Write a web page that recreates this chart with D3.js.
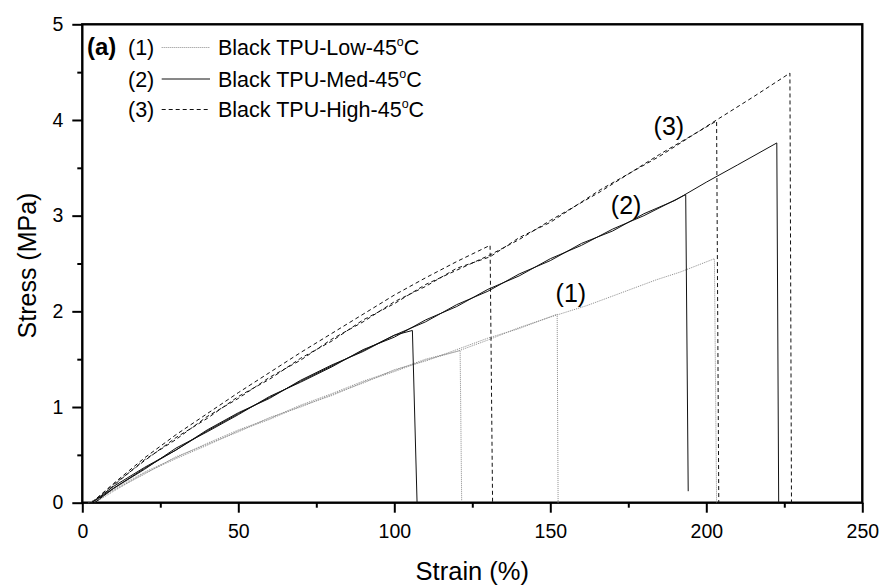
<!DOCTYPE html>
<html>
<head>
<meta charset="utf-8">
<script src="https://cdn.jsdelivr.net/npm/d3@7/dist/d3.min.js"></script>
<style>
  body { margin: 0; background: #fff; }
  svg { display: block; font-family: Arial, "Liberation Sans", sans-serif; }
</style>
</head>
<body>
<svg id="chart"></svg>
<script>
//------------------------------------------------------------
// Data: [strain %, stress MPa], one array per specimen

// (1) Black TPU-Low-45°C  (dotted)
const lowA = [[3,0],[10,0.14],[20,0.32],[30,0.47],[40,0.62],[50,0.76],[60,0.88],[70,1.02],[80,1.14],[90,1.27],[100,1.38],[110,1.50],[121.1,1.59],[121.6,0]];
const lowB = [[2,0],[10,0.13],[20,0.30],[30,0.48],[40,0.61],[50,0.74],[60,0.89],[70,1.00],[80,1.13],[90,1.25],[100,1.39],[110,1.48],[120,1.60],[130,1.72],[140,1.82],[152.2,1.97],[152.5,0]];
const lowC = [[4,0],[10,0.12],[20,0.31],[30,0.46],[40,0.60],[50,0.75],[60,0.87],[70,1.01],[80,1.12],[90,1.26],[100,1.37],[110,1.49],[120,1.58],[130,1.70],[140,1.83],[150,1.94],[161.7,2.06],[170,2.16],[184,2.33],[191.6,2.41],[202.6,2.55],[203.3,0]];

// (2) Black TPU-Med-45°C  (solid)
const medA = [[3,0],[10,0.17],[20,0.37],[30,0.55],[40,0.76],[50,0.94],[60,1.09],[70,1.28],[80,1.44],[90,1.58],[100,1.75],[105.8,1.80],[107.3,0]];
const medB = [[3,0],[10,0.15],[20,0.35],[30,0.57],[40,0.74],[50,0.92],[60,1.11],[70,1.26],[80,1.42],[90,1.60],[100,1.73],[110,1.91],[120,2.05],[130,2.23],[140,2.37],[150,2.55],[160,2.69],[170,2.86],[180,3.00],[193.4,3.22],[194.2,0.12]];
const medC = [[4,0],[10,0.15],[20,0.36],[30,0.55],[40,0.75],[50,0.93],[60,1.10],[70,1.27],[80,1.43],[90,1.59],[100,1.75],[110,1.89],[120,2.07],[130,2.21],[140,2.39],[150,2.53],[160,2.71],[170,2.84],[180,3.02],[190,3.16],[200,3.35],[210,3.53],[222.6,3.76],[223.2,0]];

// (3) Black TPU-High-45°C  (dashed)
const highA = [[3,0],[10,0.20],[20,0.47],[30,0.71],[40,0.93],[50,1.15],[60,1.36],[70,1.57],[80,1.77],[90,1.97],[100,2.17],[110,2.35],[120,2.52],[130.7,2.69],[131.5,0]];
const highB = [[3,0],[10,0.19],[20,0.44],[30,0.68],[40,0.88],[50,1.11],[60,1.29],[70,1.51],[80,1.69],[90,1.91],[100,2.08],[110,2.28],[120,2.43],[130.7,2.59],[140,2.75],[150,2.95],[166,3.25],[185,3.64],[203.3,3.99],[204,0]];
const highC = [[4,0],[10,0.18],[20,0.45],[30,0.66],[40,0.90],[50,1.09],[60,1.31],[70,1.49],[80,1.71],[90,1.89],[100,2.10],[110,2.26],[120,2.45],[130.7,2.57],[140,2.77],[150,2.93],[166,3.27],[185,3.62],[203.3,4.00],[215,4.24],[226.8,4.49],[227.3,0]];

const seriesNames = ["Black TPU-Low-45", "Black TPU-Med-45", "Black TPU-High-45"];
const seriesTags = ["(1)", "(2)", "(3)"];

const xTicks = [0, 50, 100, 150, 200, 250];
const xMinor = [25, 75, 125, 175, 225];
const yTicks = [0, 1, 2, 3, 4, 5];
const yMinor = [0.5, 1.5, 2.5, 3.5, 4.5];

//------------------------------------------------------------
// Chart setup
const W = 884, H = 586;
const margin = { top: 24.3, right: 21.7, bottom: 83.3, left: 82.3 };
const innerW = W - margin.left - margin.right;
const innerH = H - margin.top - margin.bottom;

const svg = d3.select("#chart").attr("width", W).attr("height", H);
const g = svg.append("g").attr("transform", `translate(${margin.left},${margin.top})`);

const x = d3.scaleLinear().domain([0, 250]).range([0, innerW]);
const y = d3.scaleLinear().domain([0, 5]).range([innerH, 0]);

// Axes (major + minor ticks, outward)
g.append("g").attr("transform", `translate(0,${innerH})`)
  .call(d3.axisBottom(x).tickValues(xTicks).tickSize(10).tickPadding(11).tickFormat(d3.format("d")));
g.append("g").attr("transform", `translate(0,${innerH})`)
  .call(d3.axisBottom(x).tickValues(xMinor).tickSize(5).tickFormat(""));

g.append("g")
  .call(d3.axisLeft(y).tickValues(yTicks).tickSize(10).tickPadding(9).tickFormat(d3.format("d")));
g.append("g")
  .call(d3.axisLeft(y).tickValues(yMinor).tickSize(5).tickFormat(""));

g.selectAll(".domain").remove();
g.selectAll(".tick line").attr("stroke", "#000").attr("stroke-width", 2);
g.selectAll(".tick text").attr("fill", "#000").style("font-size", "19.5px")
  .style("font-family", "Arial, 'Liberation Sans', sans-serif");

// Frame
g.append("rect")
  .attr("width", innerW).attr("height", innerH)
  .attr("fill", "none").attr("stroke", "#000").attr("stroke-width", 2.4);

// Axis titles
svg.append("text")
  .attr("x", margin.left + innerW / 2).attr("y", 580)
  .attr("text-anchor", "middle").style("font-size", "25.5px")
  .text("Strain (%)");

svg.append("text")
  .attr("transform", `translate(36,${margin.top + innerH / 2 + 2}) rotate(-90)`)
  .attr("text-anchor", "middle").style("font-size", "25px")
  .text("Stress (MPa)");

//------------------------------------------------------------
// Curves
const styles = [
  { stroke: "#8c8c8c", dash: "1 1" },
  { stroke: "#111", dash: null },
  { stroke: "#111", dash: "4 3" }
];
const groups = [[lowA, lowB, lowC], [medA, medB, medC], [highA, highB, highC]];

const line = d3.line().x(d => x(d[0])).y(d => y(d[1]));

groups.forEach((specimens, i) => {
  g.append("g").selectAll("path")
    .data(specimens)
    .join("path")
    .attr("d", line)
    .attr("fill", "none")
    .attr("stroke", styles[i].stroke)
    .attr("stroke-width", 1)
    .attr("stroke-dasharray", styles[i].dash);
});

// Curve tags placed in data units
const tagAt = [[156.6, 2.10], [174.3, 3.02], [188, 3.84]];
g.selectAll(".tag")
  .data(seriesTags)
  .join("text")
  .attr("class", "tag")
  .attr("x", (d, i) => x(tagAt[i][0]))
  .attr("y", (d, i) => y(tagAt[i][1]))
  .attr("text-anchor", "middle")
  .style("font-size", "25px")
  .text(d => d);

//------------------------------------------------------------
// Legend
svg.append("text")
  .attr("x", 87).attr("y", 55)
  .style("font-size", "24px").style("font-weight", "bold")
  .text("(a)");

const legendBase = [55, 86.5, 117];
seriesNames.forEach((name, i) => {
  const by = legendBase[i];
  svg.append("text").attr("x", 128).attr("y", by)
    .style("font-size", "21.5px").text(seriesTags[i]);
  svg.append("line")
    .attr("x1", 161.7).attr("x2", 210)
    .attr("y1", by - 7.5).attr("y2", by - 7.5)
    .attr("stroke", styles[i].stroke)
    .attr("stroke-width", 1)
    .attr("stroke-dasharray", styles[i].dash);
  const t = svg.append("text").attr("x", 218).attr("y", by).style("font-size", "21.5px");
  t.append("tspan").text(name);
  t.append("tspan").attr("dy", -9).style("font-size", "12.5px").text("o");
  t.append("tspan").attr("dy", 9).text("C");
});
</script>
</body>
</html>
